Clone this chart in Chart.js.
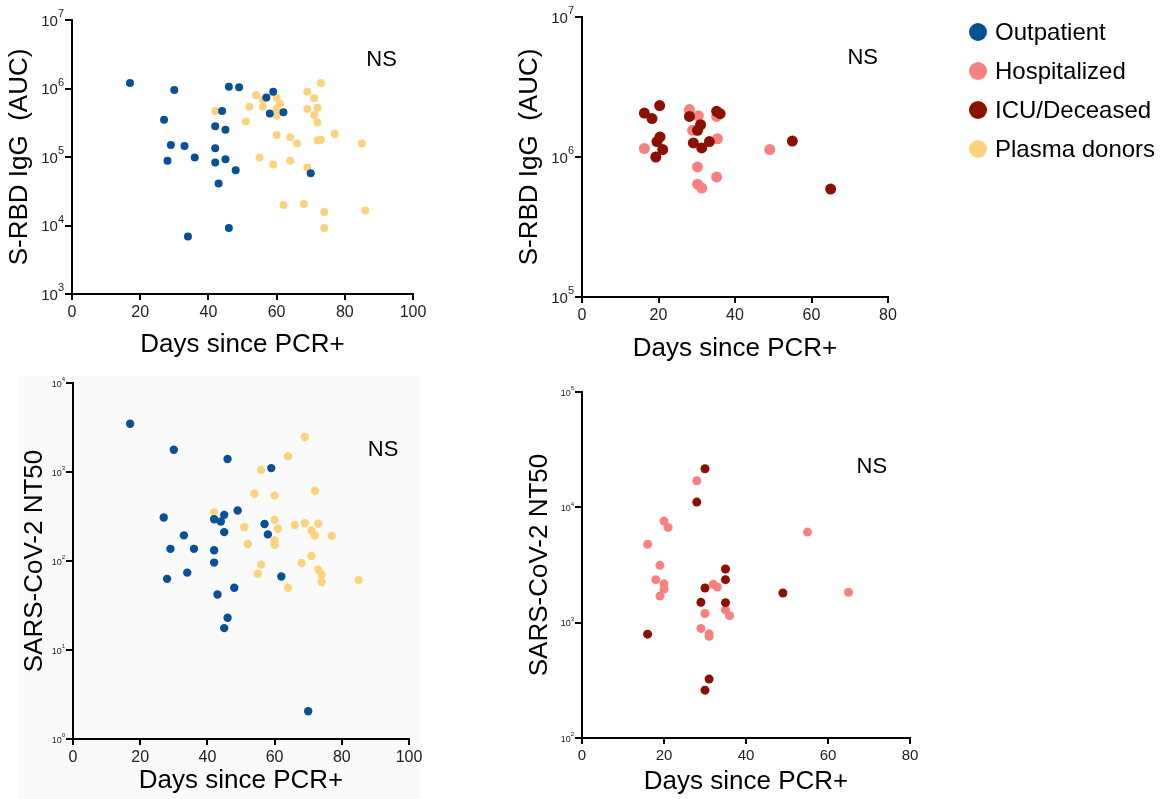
<!DOCTYPE html>
<html>
<head>
<meta charset="utf-8">
<script src="https://cdn.jsdelivr.net/npm/chart.js@4"></script>
<style>
  body { margin: 0; background: #fff; }
  #page { position: relative; width: 1163px; height: 799px; overflow: hidden; }
  canvas { position: absolute; }
</style>
</head>
<body>
<div id="page">
  <canvas id="c1" width="440" height="370" style="left:0;top:0"></canvas>
  <canvas id="c2" width="693" height="370" style="left:470px;top:0"></canvas>
  <canvas id="c3" width="440" height="429" style="left:0;top:370px"></canvas>
  <canvas id="c4" width="460" height="429" style="left:470px;top:370px"></canvas>
</div>
<script>
// group names + colours
const groups = ['Outpatient', 'Hospitalized', 'ICU/Deceased', 'Plasma donors'];
const groupColors = ['#0a5096', '#f7817f', '#8b1000', '#fdd27e'];

// --- S-RBD IgG (AUC), outpatients vs plasma donors
const rbdOutDays = [17, 30, 27, 29, 28, 33, 36, 34, 42, 44, 45, 42, 42, 45, 43, 48, 46, 49, 46, 57, 59, 58, 62, 70];
const rbdOutAuc  = [1.2e6, 9.5e5, 3.5e5, 1.5e5, 8.8e4, 1.45e5, 9.8e4, 6.9e3, 2.8e5, 4.7e5, 2.5e5, 1.34e5, 8.3e4, 9.3e4,
                    4.1e4, 6.4e4, 1.06e6, 1.04e6, 9.2e3, 7.4e5, 9e5, 4.3e5, 4.5e5, 5.8e4];
const rbdDonorDays = [42, 51, 52, 54, 56, 56, 60, 61, 60, 60, 60, 55, 59, 64, 66, 64, 62, 68, 69, 69, 69, 73, 71, 72, 71,
                      72, 72, 73, 77, 85, 74, 74, 86];
const rbdDonorAuc  = [4.7e5, 3.3e5, 5.4e5, 8e5, 6.8e5, 5.4e5, 7.3e5, 6e5, 5.1e5, 4e5, 2.1e5, 9.8e4, 7.8e4, 1.94e5, 1.58e5,
                      8.8e4, 2e4, 2.06e4, 9e5, 5e5, 7e4, 1.2e6, 7.2e5, 5.25e5, 4.1e5, 3.2e5, 1.74e5, 1.79e5, 2.17e5,
                      1.58e5, 1.57e4, 9.2e3, 1.66e4];

// --- S-RBD IgG (AUC), hospitalized vs ICU/deceased
const rbdIcuDays = [16.3, 20.3, 18.3, 19.6, 20.4, 21.1, 19.3, 28.1, 31, 30.2, 29.1, 31.3, 33.3, 35.2, 36.1, 55, 65];
const rbdIcuAuc  = [2.06e6, 2.33e6, 1.88e6, 1.29e6, 1.39e6, 1.13e6, 1.0e6, 1.95e6, 1.7e6, 1.55e6, 1.26e6, 1.16e6,
                    1.29e6, 2.12e6, 2.04e6, 1.3e6, 5.9e5];
const rbdHospDays = [16.3, 28.1, 30.4, 28.9, 35.2, 35.4, 30.2, 30.2, 31.3, 35.2, 49.1];
const rbdHospAuc  = [1.15e6, 2.18e6, 1.97e6, 1.55e6, 1.95e6, 1.35e6, 8.5e5, 6.4e5, 6e5, 7.2e5, 1.13e6];

// --- SARS-CoV-2 NT50, outpatients vs plasma donors
const ntOutDays = [17, 30, 46, 59, 27, 29, 33, 36, 28, 34, 42, 44, 45, 45, 42, 42, 43, 48, 46, 45, 49, 57, 58, 62, 70];
const ntOutVal  = [3490, 1780, 1400, 1106, 308, 137, 194, 137, 63, 74, 295, 278, 330, 211, 132, 96, 42, 50, 23, 17.6,
                   370, 260, 199, 67, 2.05];
const ntDonorDays = [42, 51, 52, 54, 56, 56, 55, 60, 60, 61, 60, 60, 64, 64, 66, 69, 69, 68, 72, 71, 72, 71, 73, 73,
                     74, 74, 77, 85];
const ntDonorVal  = [351, 240, 155, 570, 1060, 91, 72, 546, 290, 230, 170, 152, 1500, 50, 253, 2470, 266, 95, 615,
                     220, 194, 114, 262, 80, 70, 58, 192, 61];

// --- SARS-CoV-2 NT50, hospitalized vs ICU/deceased
const ntHospDays = [28, 20, 21, 16, 19, 18, 20, 20, 19, 55, 65, 32, 33, 30, 35, 36, 29, 31, 31];
const ntHospVal  = [17000, 7600, 6700, 4780, 3140, 2360, 2170, 1960, 1700, 6100, 1835, 2150, 2040, 1200, 1290, 1150,
                    890, 800, 760];
const ntIcuDays = [30, 28, 16, 30, 29, 35, 35, 35, 49, 31, 30];
const ntIcuVal  = [21600, 11100, 795, 2000, 1500, 2920, 2360, 1490, 1810, 324, 260];

// axis ticks
const dayTicks100 = [0, 20, 40, 60, 80, 100];
const dayTicks80 = [0, 20, 40, 60, 80];
const xTitle = 'Days since PCR+';
const rbdTitle = 'S-RBD IgG  (AUC)';
const ntTitle = 'SARS-CoV-2 NT50';

const FONT = '"Liberation Sans", Arial, sans-serif';
const decades = (lo, hi) => { const out = []; for (let e = lo; e <= hi; e++) out.push(Math.pow(10, e)); return out; };
const pts = (xs, ys) => xs.map((x, i) => ({ x: x, y: ys[i] }));

// axis lines, tick marks and 10^n labels, from the chart's own scales
const axesDraw = {
  id: 'axesDraw',
  afterDraw(chart, args, opts) {
    const { ctx, chartArea: a, scales: { x, y } } = chart;
    const L = Math.round(a.left), B = Math.round(a.bottom), T = Math.round(a.top), R = Math.round(a.right);
    ctx.save();
    ctx.fillStyle = '#000';
    ctx.fillRect(L - 1, T - 1, 2, B - T + 2);
    ctx.fillRect(L - 1, B - 1, R - L + 2, 2);
    x.ticks.forEach(t => ctx.fillRect(Math.round(x.getPixelForValue(t.value)) - 1, B, 2, 6));
    y.ticks.forEach(t => ctx.fillRect(L - 7, Math.round(y.getPixelForValue(t.value)) - 1, 6, 2));

    const s = opts.size;
    ctx.fillStyle = '#222';
    ctx.textAlign = 'right';
    ctx.textBaseline = 'middle';
    y.ticks.forEach(t => {
      const py = y.getPixelForValue(t.value);
      const exp = String(Math.round(Math.log10(t.value)));
      const right = L - 8;
      ctx.font = Math.round(s * 0.72) + 'px ' + FONT;
      const ew = ctx.measureText(exp).width;
      ctx.fillText(exp, right, py - s * 0.38);
      ctx.font = s + 'px ' + FONT;
      ctx.fillText('10', right - ew, py + s * 0.12);
    });
    ctx.restore();
  }
};

// "NS" label placed in data coordinates
const nsLabel = {
  id: 'nsLabel',
  afterDraw(chart, args, opts) {
    const { ctx, scales } = chart;
    ctx.save();
    ctx.font = '22px ' + FONT;
    ctx.fillStyle = '#000';
    ctx.textAlign = 'center';
    ctx.textBaseline = 'middle';
    ctx.fillText('NS', scales.x.getPixelForValue(opts.x), scales.y.getPixelForValue(opts.y));
    ctx.restore();
  }
};

// faint panel background (bottom-left figure has a light grey backdrop)
const backdrop = {
  id: 'backdrop',
  beforeDraw(chart, args, opts) {
    if (!opts.color) return;
    const { ctx, height } = chart;
    ctx.save();
    ctx.fillStyle = opts.color;
    ctx.fillRect(opts.left, opts.top, opts.width, height - opts.top);
    ctx.restore();
  }
};

// shared legend, drawn to the right of the top-right panel
const groupLegend = {
  id: 'groupLegend',
  afterDraw(chart, args, opts) {
    if (!opts.show) return;
    const { ctx, chartArea: a } = chart;
    ctx.save();
    ctx.font = '24px ' + FONT;
    ctx.textBaseline = 'middle';
    ctx.textAlign = 'left';
    groups.forEach((name, i) => {
      const cy = a.top + 15 + i * 39;
      const cx = a.right + 90;
      ctx.fillStyle = groupColors[i];
      ctx.beginPath();
      ctx.arc(cx, cy, 9, 0, Math.PI * 2);
      ctx.fill();
      ctx.fillStyle = '#000';
      ctx.fillText(name, cx + 17, cy + 1);
    });
    ctx.restore();
  }
};

function makePanel(id, p) {
  new Chart(document.getElementById(id), {
    type: 'scatter',
    data: {
      datasets: p.sets.map(s => ({
        label: groups[s.g],
        data: s.data,
        backgroundColor: groupColors[s.g],
        borderWidth: 0,
        pointRadius: p.r,
        pointHoverRadius: p.r
      }))
    },
    options: {
      responsive: false,
      animation: false,
      devicePixelRatio: 1,
      layout: { padding: p.pad },
      plugins: {
        legend: { display: false },
        tooltip: { enabled: false },
        nsLabel: p.ns,
        axesDraw: { size: p.yTickSize },
        backdrop: p.backdrop || {},
        groupLegend: { show: !!p.legend }
      },
      scales: {
        x: {
          type: 'linear', min: 0, max: p.xTicks[p.xTicks.length - 1],
          afterBuildTicks: s => { s.ticks = p.xTicks.map(v => ({ value: v })); },
          afterFit: s => { s.height = p.xH; },
          grid: { display: false, drawTicks: false },
          border: { display: false },
          ticks: { color: '#222', font: { family: FONT, size: p.xTickSize }, padding: 9 },
          title: { display: true, text: xTitle, color: '#000', font: { family: FONT, size: 26 },
                   padding: { top: 0, bottom: p.xTitlePad } }
        },
        y: {
          type: 'logarithmic', min: p.yTicks[0], max: p.yTicks[p.yTicks.length - 1],
          afterBuildTicks: s => { s.ticks = p.yTicks.map(v => ({ value: v })); },
          afterFit: s => { s.width = p.yW; },
          grid: { display: false, drawTicks: false },
          border: { display: false },
          ticks: { display: false },
          title: { display: true, text: p.yTitle, color: '#000', font: { family: FONT, size: 26 },
                   padding: { top: p.yTitlePad, bottom: 0 } }
        }
      }
    },
    plugins: [backdrop, axesDraw, nsLabel, groupLegend]
  });
}

makePanel('c1', {
  sets: [{ g: 0, data: pts(rbdOutDays, rbdOutAuc) }, { g: 3, data: pts(rbdDonorDays, rbdDonorAuc) }],
  r: 4, pad: { left: 0, top: 20, right: 27, bottom: 0 }, xH: 76, yW: 72,
  xTicks: dayTicks100, yTicks: decades(3, 7), xTickSize: 16, yTickSize: 15,
  xTitlePad: 10, yTitle: rbdTitle, yTitlePad: 4, ns: { x: 90.8, y: 2.6e6 }
});

makePanel('c2', {
  sets: [{ g: 2, data: pts(rbdIcuDays, rbdIcuAuc) }, { g: 1, data: pts(rbdHospDays, rbdHospAuc) }],
  r: 5.5, pad: { left: 0, top: 17, right: 275, bottom: 0 }, xH: 73, yW: 112,
  xTicks: dayTicks80, yTicks: decades(5, 7), xTickSize: 16, yTickSize: 15,
  xTitlePad: 6, yTitle: rbdTitle, yTitlePad: 44, ns: { x: 73.4, y: 5.1e6 }, legend: true
});

makePanel('c3', {
  sets: [{ g: 0, data: pts(ntOutDays, ntOutVal) }, { g: 3, data: pts(ntDonorDays, ntDonorVal) }],
  r: 4.2, pad: { left: 0, top: 13, right: 31, bottom: 0 }, xH: 60, yW: 73,
  xTicks: dayTicks100, yTicks: decades(0, 4), xTickSize: 16, yTickSize: 9,
  xTitlePad: 3, yTitle: ntTitle, yTitlePad: 19, ns: { x: 92.3, y: 1780 },
  backdrop: { color: '#fafafa', left: 18, top: 6, width: 402 }
});

makePanel('c4', {
  sets: [{ g: 2, data: pts(ntIcuDays, ntIcuVal) }, { g: 1, data: pts(ntHospDays, ntHospVal) }],
  r: 4.5, pad: { left: 0, top: 22, right: 20, bottom: 0 }, xH: 61, yW: 112,
  xTicks: dayTicks80, yTicks: decades(2, 5), xTickSize: 15, yTickSize: 9,
  xTitlePad: 2, yTitle: ntTitle, yTitlePad: 54, ns: { x: 70.7, y: 22400 }
});
</script>
</body>
</html>
